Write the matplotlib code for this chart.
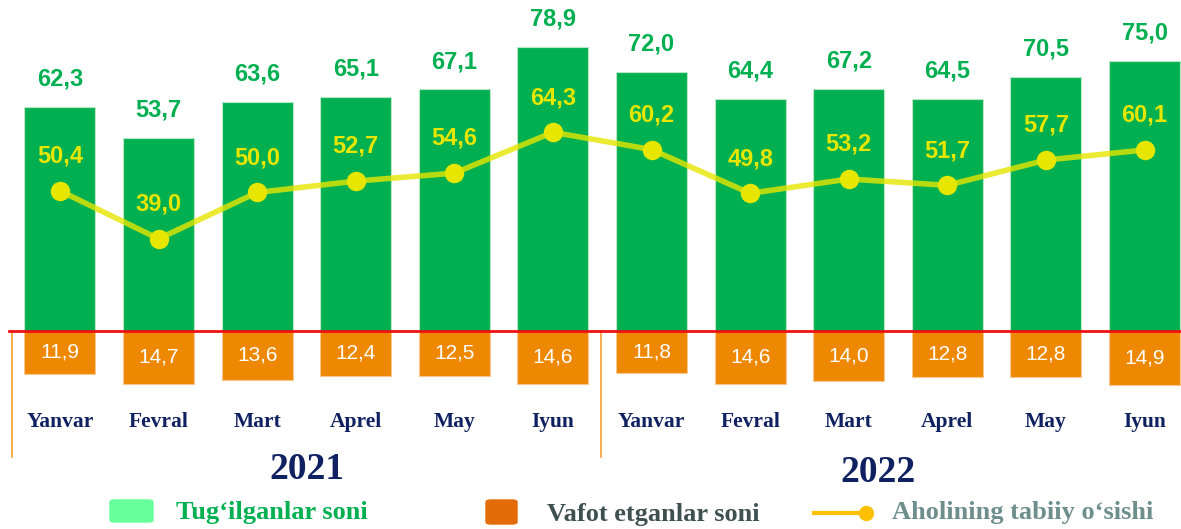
import numpy as np
import matplotlib.pyplot as plt
from matplotlib.patches import FancyBboxPatch
from matplotlib.lines import Line2D

months = ['Yanvar', 'Fevral', 'Mart', 'Aprel', 'May', 'Iyun',
          'Yanvar', 'Fevral', 'Mart', 'Aprel', 'May', 'Iyun']
born = [62.3, 53.7, 63.6, 65.1, 67.1, 78.9, 72.0, 64.4, 67.2, 64.5, 70.5, 75.0]
died = [11.9, 14.7, 13.6, 12.4, 12.5, 14.6, 11.8, 14.6, 14.0, 12.8, 12.8, 14.9]
growth = [50.4, 39.0, 50.0, 52.7, 54.6, 64.3, 60.2, 49.8, 53.2, 51.7, 57.7, 60.1]
years = ['2021', '2022']

GREEN = '#00B050'
ORANGE = '#EE8800'
YELLOW = '#E6E600'
NAVY = '#0F2160'


def fmt(v):
    return '{:.1f}'.format(v).replace('.', ',')


fig = plt.figure(figsize=(11.81, 5.29), dpi=100)
ax = fig.add_axes([0, 0, 1, 1])
ax2 = ax.twinx()

x = np.arange(len(months))
ax.bar(x, born, 0.72, color=GREEN, edgecolor='#B8E8C8', linewidth=0.8, zorder=2)
ax.bar(x, [-d for d in died], 0.72, color=ORANGE, edgecolor='#F8C890',
       linewidth=0.8, zorder=2)

ax.set_xlim(-0.608, 11.37)
ax.set_ylim(-55.0, 91.94)
ax2.set_ylim(-29.93, 95.72)

# zero line and year separators
ax.axhline(0, xmin=0.008, color='#EE1111', linewidth=2, zorder=3)
for xs in (-0.487, 5.49):
    ax.plot([xs, xs], [0, -35], color='#F5A030', linewidth=1.2, zorder=1)

for i in x:
    ax.annotate(fmt(born[i]), (i, born[i]), xytext=(0, 20), textcoords='offset points',
                ha='center', va='center', color=GREEN, fontsize=17,
                fontweight='bold', family='Liberation Sans')
    ax.text(i, -died[i] / 2, fmt(died[i]), ha='center', va='center', color='white',
            fontsize=15, family='Liberation Sans', zorder=4)
    ax.text(i, -25.3, months[i], ha='center', va='center', color=NAVY, fontsize=15.5,
            fontweight='bold', family='Liberation Serif')

ax2.plot(x, growth, color=YELLOW, linewidth=4, alpha=0.8, zorder=5)
ax2.plot(x, growth, 'o', color=YELLOW, markersize=13, zorder=6)
for i in x:
    ax2.annotate(fmt(growth[i]), (i, growth[i]), xytext=(0, 25), textcoords='offset points',
                 ha='center', va='center', color=YELLOW, fontsize=17,
                 fontweight='bold', family='Liberation Sans')

ax.text(2.5, -38.6, years[0], ha='center', va='center', color=NAVY, fontsize=27,
        fontweight='bold', family='Liberation Serif')
ax.text(8.3, -39.2, years[1], ha='center', va='center', color=NAVY, fontsize=27,
        fontweight='bold', family='Liberation Serif')

for a in (ax, ax2):
    a.axis('off')

# legend
W, H = 1181.0, 529.0
fig.patches.append(FancyBboxPatch((110 / W, 1 - 522 / H), 43 / W, 22 / H,
                                  boxstyle='round,pad=0,rounding_size=0.004',
                                  transform=fig.transFigure, color='#66FF99'))
fig.text(176 / W, 1 - 513 / H, 'Tug‘ilganlar soni', color=GREEN, fontsize=19,
         fontweight='bold', family='Liberation Serif', va='center')
fig.patches.append(FancyBboxPatch((486 / W, 1 - 524 / H), 31 / W, 24 / H,
                                  boxstyle='round,pad=0,rounding_size=0.004',
                                  transform=fig.transFigure, color='#E36C09'))
fig.text(547 / W, 1 - 515 / H, 'Vafot etganlar soni', color='#3F5050', fontsize=19,
         fontweight='bold', family='Liberation Serif', va='center')
fig.lines.append(Line2D([814 / W, 866 / W], [1 - 513 / H, 1 - 513 / H],
                        transform=fig.transFigure, color='#FFC000', linewidth=3))
fig.lines.append(Line2D([866 / W], [1 - 513 / H], transform=fig.transFigure,
                        color='#FFC000', marker='o', markersize=10))
fig.text(892 / W, 1 - 513 / H, 'Aholining tabiiy o‘sishi', color='#6E8E8E', fontsize=19,
         fontweight='bold', family='Liberation Serif', va='center')

fig.savefig('out.png', dpi=100)
